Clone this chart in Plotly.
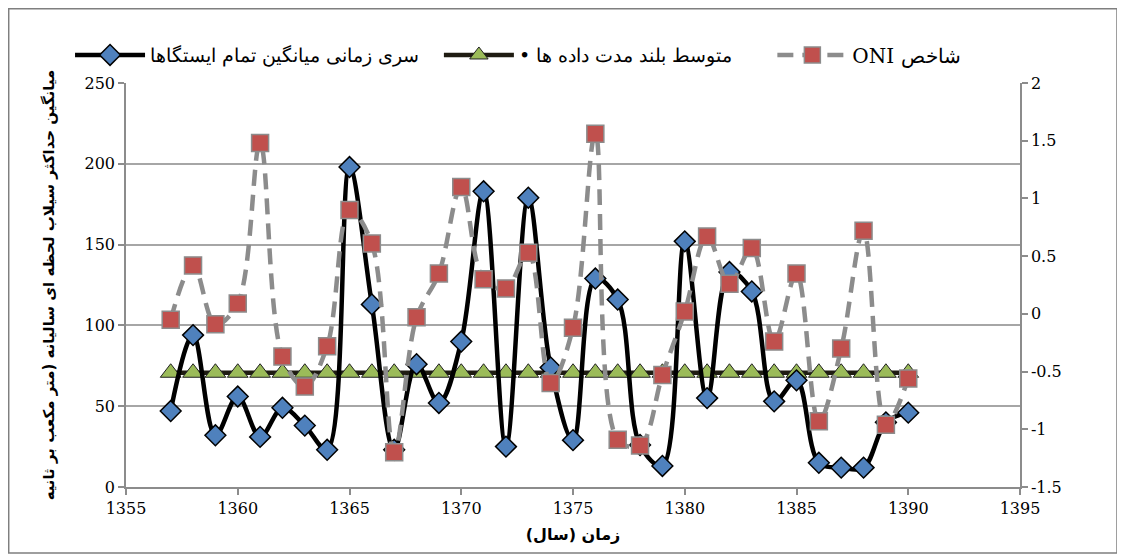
import plotly.graph_objects as go

years = list(range(1357, 1391))
flood_mean = [47, 94, 32, 56, 31, 49, 38, 23, 198, 113, 23, 76, 52, 90, 183, 25, 179,
              74, 29, 129, 116, 26, 13, 152, 55, 133, 121, 53, 66, 15, 12, 12, 40, 46]
oni = [-0.05, 0.42, -0.09, 0.09, 1.48, -0.37, -0.63, -0.28, 0.90, 0.61, -1.20, -0.03,
       0.35, 1.10, 0.30, 0.22, 0.53, -0.60, -0.12, 1.56, -1.09, -1.14, -0.53, 0.02,
       0.67, 0.26, 0.57, -0.24, 0.35, -0.93, -0.30, 0.72, -0.96, -0.56]
long_term_value = 70.7
long_term = [long_term_value] * len(years)

name_series = "سری زمانی میانگین تمام ایستگاها"
name_mean = "• متوسط بلند مدت داده ها"
name_oni = "ONI شاخص"

x_ticks = [1355, 1360, 1365, 1370, 1375, 1380, 1385, 1390, 1395]
y_ticks = [0, 50, 100, 150, 200, 250]
y2_ticks = [-1.5, -1, -0.5, 0, 0.5, 1, 1.5, 2]
y2_text = ["-1.5", "-1", "-0.5", "0", "0.5", "1", "1.5", "2"]

x_title = "زمان (سال)"
y_title = "میانگین حداکثر سیلاب لحظه ای سالیانه (متر مکعب بر ثانیه"

serif = "DejaVu Serif"
sans = "DejaVu Sans"

fig = go.Figure()

fig.add_trace(go.Scatter(
    x=years, y=long_term, name=name_mean, mode="lines+markers", legend="legend2",
    line=dict(color="#1f1c12", width=4.5),
    marker=dict(symbol="triangle-up", size=18, color="#9bbb59",
                line=dict(color="#222222", width=1)),
    yaxis="y"))

fig.add_trace(go.Scatter(
    x=years, y=flood_mean, name=name_series, mode="lines+markers", legend="legend",
    line=dict(color="black", width=4.5, shape="spline", smoothing=1),
    marker=dict(symbol="diamond", size=16, color="#4f81bd",
                line=dict(color="black", width=1.5)),
    yaxis="y"))

fig.add_trace(go.Scatter(
    x=years, y=oni, name=name_oni, mode="lines+markers", legend="legend3",
    line=dict(color="#8c8c8c", width=4.5, dash="16px,9px", shape="spline", smoothing=1),
    marker=dict(symbol="square", size=17, color="#c0504d",
                line=dict(color="#8c8c8c", width=1.5)),
    yaxis="y2"))

legend_common = dict(orientation="h", xref="paper", yref="paper", y=1.069,
                     xanchor="left", yanchor="middle", itemwidth=70,
                     bgcolor="rgba(0,0,0,0)")

tick_font = dict(family=serif, size=16, color="black")

fig.update_layout(
    width=1125, height=560,
    margin=dict(l=118, r=113, t=75, b=81, autoexpand=False),
    paper_bgcolor="white", plot_bgcolor="white",
    showlegend=True,
    legend=dict(x=-0.0626, font=dict(family=serif, size=19, color="black"), **legend_common),
    legend2=dict(x=0.350, font=dict(family=serif, size=19, color="black"), **legend_common),
    legend3=dict(x=0.723, font=dict(family=serif, size=20, color="black"), **legend_common),
    xaxis=dict(range=[1355, 1395], tickvals=x_ticks, showgrid=False,
               automargin=False,
               showline=True, linecolor="#8c8c8c", linewidth=1.5,
               ticks="outside", ticklen=6, tickcolor="#8c8c8c", tickwidth=1.5,
               tickfont=tick_font,
               zeroline=False,
               title=dict(text="<b>" + x_title + "</b>", standoff=12,
                          font=dict(family=sans, size=16, color="black"))),
    yaxis=dict(range=[0, 250], tickvals=y_ticks, showgrid=True,
               automargin=False,
               gridcolor="#a6a6a6", gridwidth=1.5,
               showline=True, linecolor="#8c8c8c", linewidth=1.5,
               ticks="outside", ticklen=6, tickcolor="#8c8c8c", tickwidth=1.5,
               tickfont=tick_font,
               zeroline=False,
               title=dict(text="<b>" + y_title + "</b>", standoff=26,
                          font=dict(family=sans, size=15, color="black"))),
    yaxis2=dict(range=[-1.5, 2], tickvals=y2_ticks, ticktext=y2_text,
                automargin=False,
                overlaying="y", side="right", showgrid=False,
                showline=True, linecolor="#8c8c8c", linewidth=1.5,
                ticks="outside", ticklen=6, tickcolor="#8c8c8c", tickwidth=1.5,
                tickfont=tick_font,
                zeroline=False),
)

fig.add_shape(type="rect", xref="paper", yref="paper",
              x0=-0.1312, x1=1.1085, y0=-0.1634, y1=1.1838,
              line=dict(color="#7f7f7f", width=1.5), fillcolor="rgba(0,0,0,0)",
              layer="below")

fig.write_html("out.html")
